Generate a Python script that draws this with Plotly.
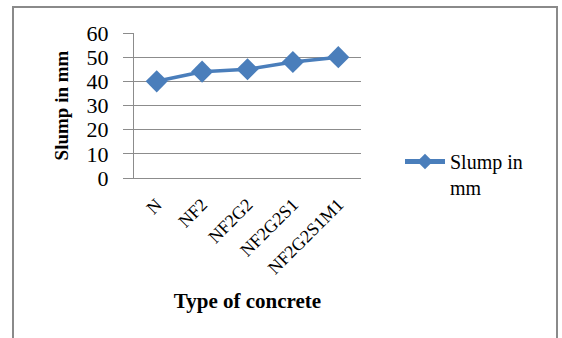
import plotly.graph_objects as go

# Slump test results per concrete mix
categories = ["N", "NF2", "NF2G2", "NF2G2S1", "NF2G2S1M1"]
slump_mm = [40, 44, 45, 48, 50]
y_ticks = [0, 10, 20, 30, 40, 50, 60]

W, H = 562, 338
L, R, T, B = 134, 201, 33, 160

serif = "Liberation Serif, Times New Roman, serif"
blue = "#4A7EBB"
grid = "#8c8c8c"

fig = go.Figure()
fig.add_trace(go.Scatter(
    x=categories, y=slump_mm, mode="lines+markers",
    name="Slump in<br>mm",
    line=dict(color=blue, width=3.5),
    marker=dict(symbol="diamond", size=17, color=blue),
))

pw = W - L - R
ph = H - T - B
def px_x(p):
    return (p - L) / pw
def px_y(p):
    return (H - B - p) / ph

fig.update_layout(
    width=W, height=H,
    margin=dict(l=L, r=R, t=T, b=B),
    paper_bgcolor="white", plot_bgcolor="white",
    font=dict(family=serif, color="black"),
    showlegend=True,
    legend=dict(x=px_x(400), y=px_y(142), xanchor="left", yanchor="top",
                font=dict(family=serif, size=20), bgcolor="rgba(0,0,0,0)",
                itemwidth=40, valign="top", itemsizing="constant"),
    xaxis=dict(
        type="category", tickangle=-45, tickfont=dict(family=serif, size=18),
        showline=True, linecolor=grid, linewidth=1, showgrid=False,
        ticks="", ticklabelstandoff=8,
        title=dict(text="<b>Type of concrete</b>", font=dict(family=serif, size=21),
                   standoff=16),
        range=[-0.5, 4.5],
    ),
    yaxis=dict(
        range=[0, 60], tickvals=y_ticks, tickfont=dict(family=serif, size=22),
        showline=True, linecolor=grid, linewidth=1,
        showgrid=True, gridcolor=grid, gridwidth=1,
        ticks="outside", ticklen=10, tickcolor=grid,
        ticklabelstandoff=10,
        title=dict(text="<b>Slump in mm</b>", font=dict(family=serif, size=19),
                   standoff=12),
        zeroline=False,
    ),
    shapes=[dict(type="rect", xref="paper", yref="paper",
                 x0=px_x(13), x1=px_x(557), y0=px_y(345), y1=px_y(7),
                 line=dict(color="#8a8a8a", width=2), layer="below")],
)

fig.write_html("out.html")
